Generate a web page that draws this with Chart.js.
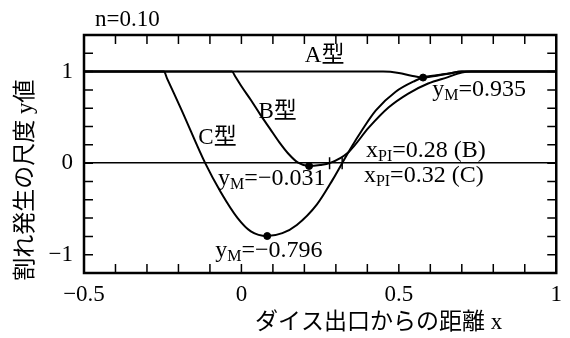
<!DOCTYPE html>
<html>
<head>
<meta charset="utf-8">
<script src="https://cdn.jsdelivr.net/npm/chart.js@4.4.1/dist/chart.umd.min.js"></script>
<style>
  html, body { margin: 0; padding: 0; background: #fff; }
  canvas { display: block; }
</style>
</head>
<body>
<canvas id="crackChart" width="570" height="338"></canvas>
<script>
// 割れ発生の尺度 y vs ダイス出口からの距離 x, n = 0.10 (A型 / B型 / C型)
const aX = [-0.5, 0.45, 0.5, 0.54, 0.577, 0.62, 0.66, 0.70, 1.0];
const aY = [1, 1, 0.985, 0.955, 0.935, 0.955, 0.98, 1, 1];

const bX = [-0.5, -0.03, -0.02, 0.0, 0.03, 0.06, 0.09, 0.12, 0.15, 0.18, 0.215, 0.25, 0.28, 0.34, 0.405, 0.468, 0.53, 0.593, 0.656, 0.70, 0.73, 1.0];
const bY = [1, 1, 0.95, 0.84, 0.69, 0.53, 0.38, 0.23, 0.10, 0.005, -0.031, -0.02, 0, 0.12, 0.39, 0.61, 0.76, 0.87, 0.94, 0.99, 1, 1];

const cX = [-0.5, -0.246, -0.236, -0.19, -0.115, -0.065, -0.012, 0.03, 0.082, 0.13, 0.176, 0.24, 0.29, 0.32, 0.345, 0.385, 0.427, 0.49, 0.552, 0.577, 0.62, 0.66, 0.70, 1.0];
const cY = [1, 1, 0.924, 0.58, 0, -0.32, -0.6, -0.745, -0.796, -0.765, -0.675, -0.45, -0.18, 0, 0.15, 0.37, 0.576, 0.78, 0.90, 0.935, 0.96, 0.98, 1, 1];

// minimum points y_M of A, B, C
const minX = [0.577, 0.215, 0.082];
const minY = [0.935, -0.031, -0.796];

// zero crossings x_PI of B and C
const piX = [0.28, 0.32];
const piLabels = ['B', 'C'];

const xLabelTicks = [-0.5, 0, 0.5, 1];
const yLabelTicks = [-1, 0, 1];

const FONT = "'Liberation Serif', 'Noto Sans CJK JP', serif";
const toPts = (xs, ys) => xs.map((x, i) => ({ x: x, y: ys[i] }));
const fmt = v => String(v).replace('-', '\u2212');
const fmt3 = v => v.toFixed(3).replace('-', '\u2212');

function curve(xs, ys) {
    return {
        type: 'line',
        data: toPts(xs, ys),
        borderColor: '#000',
        borderWidth: 2,
        pointRadius: 0,
        cubicInterpolationMode: 'monotone',
        fill: false
    };
}

// text with a subscript, e.g. y_M=0.935
function subText(ctx, x, y, base, sub, rest) {
    ctx.font = '24px ' + FONT;
    ctx.fillText(base, x, y);
    x += ctx.measureText(base).width;
    ctx.font = '16px ' + FONT;
    ctx.fillText(sub, x, y + 6);
    x += ctx.measureText(sub).width;
    ctx.font = '24px ' + FONT;
    ctx.fillText(rest, x, y);
}

const decorations = {
    id: 'decorations',
    afterDraw(chart) {
        const { ctx, chartArea: { left, right, top, bottom }, scales: { x, y } } = chart;
        ctx.save();
        ctx.strokeStyle = '#000';
        ctx.fillStyle = '#000';

        // inward ticks on all four sides
        const len = 9;
        ctx.lineWidth = 1.5;
        ctx.beginPath();
        x.ticks.forEach(t => {
            const px = x.getPixelForValue(t.value);
            if (px <= left + 2 || px >= right - 2) return;
            ctx.moveTo(px, bottom); ctx.lineTo(px, bottom - len);
            ctx.moveTo(px, top); ctx.lineTo(px, top + len);
        });
        y.ticks.forEach(t => {
            const py = y.getPixelForValue(t.value);
            if (py <= top + 2 || py >= bottom - 2) return;
            ctx.moveTo(left, py); ctx.lineTo(left + len, py);
            ctx.moveTo(right, py); ctx.lineTo(right - len, py);
        });
        ctx.stroke();

        ctx.lineWidth = 2.5;
        ctx.strokeRect(left, top, right - left, bottom - top);

        // labels
        ctx.textBaseline = 'middle';
        ctx.textAlign = 'left';
        const at = (vx, vy) => [x.getPixelForValue(vx), y.getPixelForValue(vy)];

        ctx.font = '23px ' + FONT;
        let p = at(0.2015, 1.174); ctx.fillText('A型', p[0], p[1]);
        p = at(0.054, 0.554); ctx.fillText('B型', p[0], p[1]);
        p = at(-0.137, 0.28); ctx.fillText('C型', p[0], p[1]);

        p = at(0.606, 0.80); subText(ctx, p[0], p[1], 'y', 'M', '=' + fmt3(minY[0]));
        p = at(-0.074, -0.17); subText(ctx, p[0], p[1], 'y', 'M', '=' + fmt3(minY[1]));
        p = at(-0.083, -0.96); subText(ctx, p[0], p[1], 'y', 'M', '=' + fmt3(minY[2]));

        p = at(0.396, 0.14); subText(ctx, p[0], p[1], 'x', 'PI', '=' + piX[0].toFixed(2) + ' (' + piLabels[0] + ')');
        p = at(0.389, -0.14); subText(ctx, p[0], p[1], 'x', 'PI', '=' + piX[1].toFixed(2) + ' (' + piLabels[1] + ')');

        // title and axis titles
        ctx.font = '23px ' + FONT;
        ctx.fillText('n=0.10', 95, 20);
        ctx.fillText('ダイス出口からの距離 x', 255, 323);

        ctx.save();
        ctx.translate(26, 180);
        ctx.rotate(-Math.PI / 2);
        ctx.textAlign = 'center';
        ctx.fillText('割れ発生の尺度 y値', 0, 0);
        ctx.restore();

        ctx.restore();
    }
};

new Chart(document.getElementById('crackChart'), {
    type: 'line',
    data: {
        datasets: [
            curve(aX, aY),
            curve(bX, bY),
            curve(cX, cY),
            {
                type: 'scatter',
                data: toPts(minX, minY),
                pointRadius: 3.5,
                pointBackgroundColor: '#000',
                pointBorderColor: '#000'
            },
            {
                type: 'scatter',
                data: piX.map(v => ({ x: v, y: 0 })),
                pointStyle: 'line',
                rotation: 90,
                pointRadius: 6,
                pointBorderColor: '#000',
                pointBorderWidth: 1.5
            }
        ]
    },
    options: {
        responsive: false,
        animation: false,
        devicePixelRatio: 1,
        layout: { padding: { top: 35, right: 7, left: 0, bottom: 0 } },
        plugins: { legend: { display: false }, tooltip: { enabled: false } },
        scales: {
            x: {
                type: 'linear',
                min: -0.5,
                max: 1,
                afterFit: s => { s.height = 65; },
                border: { display: false },
                grid: { display: false, drawTicks: false },
                ticks: {
                    stepSize: 0.1,
                    autoSkip: false,
                    maxRotation: 0,
                    padding: 8,
                    color: '#000',
                    font: { family: FONT, size: 23 },
                    callback: v => {
                        const r = Math.round(v * 10) / 10;
                        return xLabelTicks.includes(r) ? fmt(r) : '';
                    }
                }
            },
            y: {
                min: -1.2,
                max: 1.4,
                afterFit: s => { s.width = 84; },
                border: { display: false },
                grid: {
                    drawTicks: false,
                    lineWidth: 1.5,
                    color: c => Math.abs(c.tick.value) < 1e-9 ? '#000' : 'rgba(0,0,0,0)'
                },
                ticks: {
                    stepSize: 0.2,
                    autoSkip: false,
                    padding: 11,
                    color: '#000',
                    font: { family: FONT, size: 23 },
                    callback: v => {
                        const r = Math.round(v * 10) / 10;
                        return yLabelTicks.includes(r) ? fmt(r) : '';
                    }
                }
            }
        }
    },
    plugins: [decorations]
});
</script>
</body>
</html>
